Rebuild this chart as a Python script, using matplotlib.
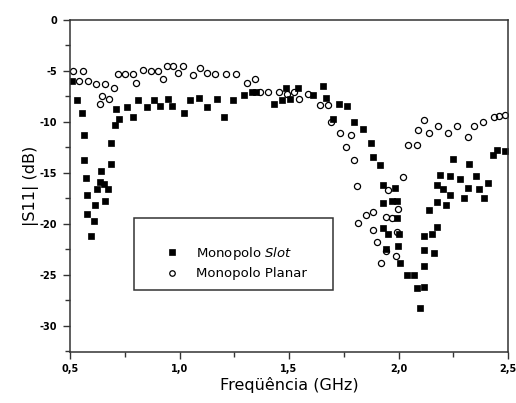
import matplotlib
matplotlib.use("Agg")
import matplotlib.pyplot as plt
from matplotlib.patches import Rectangle
from matplotlib.ticker import MultipleLocator, FixedLocator

# Monopolo Slot (filled squares)
slot_f = [0.511, 0.531, 0.556, 0.564, 0.564, 0.572, 0.576, 0.576, 0.596, 0.610,
          0.616, 0.622, 0.636, 0.642, 0.657, 0.661, 0.675, 0.687, 0.687, 0.705,
          0.709, 0.725, 0.759, 0.786, 0.809, 0.850, 0.885, 0.909, 0.949, 0.967,
          1.021, 1.048, 1.090, 1.124, 1.170, 1.203, 1.243, 1.295, 1.330, 1.348,
          1.432, 1.467, 1.485, 1.505, 1.543, 1.611, 1.654, 1.667, 1.700, 1.727,
          1.765, 1.798, 1.836, 1.874, 1.882, 1.916, 1.928, 1.928, 1.928, 1.941,
          1.954, 1.972, 1.984, 1.992, 1.994, 1.999, 2.003, 2.007, 2.040, 2.072,
          2.086, 2.098, 2.116, 2.118, 2.118, 2.118, 2.139, 2.152, 2.163, 2.177,
          2.177, 2.177, 2.190, 2.205, 2.216, 2.235, 2.235, 2.247, 2.281, 2.298,
          2.319, 2.322, 2.354, 2.366, 2.392, 2.410, 2.430, 2.451, 2.486]
slot_db = [-6.0, -7.9, -9.1, -11.3, -13.7, -15.5, -17.2, -19.05, -21.2, -19.7,
           -18.2, -16.6, -15.9, -14.8, -16.1, -17.8, -16.6, -14.1, -12.1, -10.3,
           -8.7, -9.7, -8.5, -9.5, -7.9, -8.5, -7.9, -8.4, -7.8, -8.4,
           -9.1, -7.9, -7.65, -8.5, -7.8, -9.5, -7.9, -7.4, -7.06, -7.06,
           -8.2, -7.9, -6.7, -7.8, -6.7, -7.4, -6.5, -7.65, -9.75, -8.2,
           -8.46, -10.0, -10.75, -12.06, -13.5, -14.2, -16.2, -18.0, -20.45, -22.5,
           -21.0, -17.8, -16.5, -17.8, -19.4, -22.2, -21.0, -23.9, -25.0, -25.0,
           -26.3, -28.3, -24.2, -26.2, -22.6, -21.2, -18.7, -21.0, -22.9, -20.35,
           -17.85, -16.2, -15.2, -16.6, -18.2, -15.3, -17.2, -13.6, -15.6, -17.5,
           -16.5, -14.15, -15.3, -16.6, -17.5, -16.0, -13.3, -12.8, -12.9]

# Monopolo Planar (open circles)
planar_f = [0.515, 0.541, 0.558, 0.581, 0.619, 0.637, 0.647, 0.660, 0.679, 0.702,
            0.721, 0.751, 0.789, 0.800, 0.832, 0.870, 0.903, 0.923, 0.941, 0.972,
            0.995, 1.017, 1.063, 1.094, 1.124, 1.162, 1.211, 1.258, 1.307, 1.345,
            1.368, 1.405, 1.456, 1.489, 1.524, 1.546, 1.585, 1.640, 1.676, 1.693,
            1.733, 1.760, 1.782, 1.798, 1.809, 1.814, 1.850, 1.882, 1.882, 1.903,
            1.919, 1.943, 1.943, 1.953, 1.969, 1.987, 1.992, 1.996, 2.022, 2.045,
            2.083, 2.090, 2.116, 2.141, 2.182, 2.225, 2.268, 2.316, 2.346, 2.387,
            2.436, 2.460, 2.486]
planar_db = [-5.03, -6.0, -5.03, -6.0, -6.3, -8.2, -7.45, -6.3, -7.8, -6.7,
             -5.26, -5.26, -5.26, -6.17, -4.87, -5.03, -5.03, -5.75, -4.5, -4.5,
             -5.16, -4.5, -5.42, -4.67, -5.16, -5.26, -5.26, -5.26, -6.14, -5.8,
             -7.06, -7.06, -7.06, -7.28, -7.06, -7.8, -7.28, -8.3, -8.3, -10.0,
             -11.1, -12.45, -11.33, -13.7, -16.3, -19.9, -19.1, -18.9, -20.6, -21.8,
             -23.9, -19.3, -22.65, -16.7, -19.4, -23.2, -20.8, -18.6, -15.4, -12.3,
             -12.3, -10.8, -9.8, -11.1, -10.4, -11.1, -10.4, -11.5, -10.4, -10.06,
             -9.5, -9.44, -9.34]

x_ticks = [0.5, 1.0, 1.5, 2.0, 2.5]
x_ticklabels = ["0,5", "1,0", "1,5", "2,0", "2,5"]
y_ticks = [0, -5, -10, -15, -20, -25, -30]
y_ticklabels = ["0", "-5", "-10", "-15", "-20", "-25", "-30"]

fig = plt.figure(figsize=(5.16, 4.03), dpi=100)
ax = fig.add_axes([70/516, 1-352/403, 438/516, 332/403])

ax.plot(slot_f, slot_db, linestyle="none", marker="s", markersize=4.2,
        color="black", markeredgewidth=0.5, label="Monopolo $\\it{Slot}$")
ax.plot(planar_f, planar_db, linestyle="none", marker="o", markersize=4.4,
        markerfacecolor="none", markeredgecolor="black", markeredgewidth=0.9,
        label="Monopolo Planar")

ax.set_xlim(0.5, 2.5)
ax.set_ylim(-32.6, 0)
ax.xaxis.set_major_locator(FixedLocator(x_ticks))
ax.set_xticklabels(x_ticklabels)
ax.xaxis.set_minor_locator(MultipleLocator(0.25))
ax.yaxis.set_major_locator(FixedLocator(y_ticks))
ax.set_yticklabels(y_ticklabels)
ax.yaxis.set_minor_locator(MultipleLocator(2.5))

for s in ax.spines.values():
    s.set_linewidth(1.1)
    s.set_color("#333333")
ax.tick_params(which="both", direction="out", top=False, right=False,
               color="#333333", width=1.0)
ax.tick_params(which="major", length=5, labelsize=7, pad=4)
ax.tick_params(which="minor", length=3.5)
for lab in ax.get_xticklabels() + ax.get_yticklabels():
    lab.set_fontweight("bold")

ax.set_xlabel("Freqüência (GHz)", fontsize=11.5, labelpad=2)
ax.set_ylabel("|S11| (dB)", fontsize=11.5, labelpad=1)

ax.add_patch(Rectangle((0.146, 0.187), 0.454, 0.217, transform=ax.transAxes,
                       fill=False, linewidth=1.1, edgecolor="#333333", zorder=3))
ax.legend(loc="upper left", bbox_to_anchor=(0.218, 0.322), frameon=False,
          fontsize=9.5, borderpad=0, borderaxespad=0, handlelength=1.0,
          handletextpad=1.3, labelspacing=0.4, markerscale=0.9)

fig.savefig("out.png", dpi=100)
